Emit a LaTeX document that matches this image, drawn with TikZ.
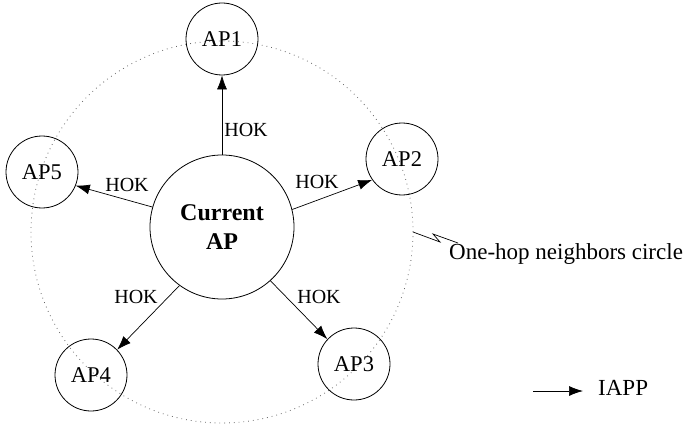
\documentclass[tikz,border=0pt]{standalone}
\usepackage{fontspec}
\setmainfont{Liberation Serif}
\usetikzlibrary{arrows.meta}

\begin{document}
\begin{tikzpicture}[x=1pt,y=-1pt,
  apnode/.style={draw,circle,minimum size=72pt,inner sep=0pt,line width=0.8pt,
    font=\fontsize{22.5}{26}\selectfont},
  curnode/.style={draw,circle,minimum size=144pt,inner sep=0pt,line width=0.8pt,
    align=center,font=\fontsize{24}{29}\selectfont\bfseries},
  hoklabel/.style={inner sep=0pt,font=\fontsize{20}{24}\selectfont},
  msg/.style={line width=0.7pt,-{Latex[length=14pt,width=10pt]}},
  neighbour/.style={line width=0.8pt,gray!80!black,dash pattern=on 0.8pt off 4pt}
]
\useasboundingbox (0,0) rectangle (691,425);

% one-hop neighbourhood
\node[circle,minimum size=382pt,inner sep=0pt,neighbour,draw] (ring) at (222,232) {};

% access points
\node[curnode] (cur) at (222,227) {Current\\AP};
\node[apnode] (ap1) at (222,39) {AP1};
\node[apnode] (ap2) at (402,159) {AP2};
\node[apnode] (ap3) at (354,364) {AP3};
\node[apnode] (ap4) at (91,375) {AP4};
\node[apnode] (ap5) at (42,172) {AP5};

% handover key messages
\draw[msg] (cur.90)    -- (ap1.270);
\draw[msg] (cur.14)    -- (ap2.215);
\draw[msg] (cur.312)   -- (ap3.137);
\draw[msg] (cur.234)   -- (ap4.44);
\draw[msg] (cur.164.6) -- (ap5.338);

\node[hoklabel] (h1) at (246,130) {HOK};
\node[hoklabel] (h2) at (317,182) {HOK};
\node[hoklabel] (h3) at (319,297) {HOK};
\node[hoklabel] (h4) at (136,297) {HOK};
\node[hoklabel] (h5) at (127,185) {HOK};

% ring caption with zigzag leader
\coordinate (z0) at (413,232);
\draw[line width=0.7pt] (z0) -- (440,242) -- (433,234) -- (458,243);
\node[anchor=west,inner sep=0pt,font=\fontsize{23}{27}\selectfont] (cap) at (449,254) {One-hop neighbors circle};

% legend
\coordinate (la) at (533,391);
\coordinate (lb) at (583,391);
\draw[msg] (la) -- (lb);
\node[anchor=west,inner sep=0pt,font=\fontsize{23}{27}\selectfont] (iapp) at (598,388) {IAPP};
\end{tikzpicture}
\end{document}
